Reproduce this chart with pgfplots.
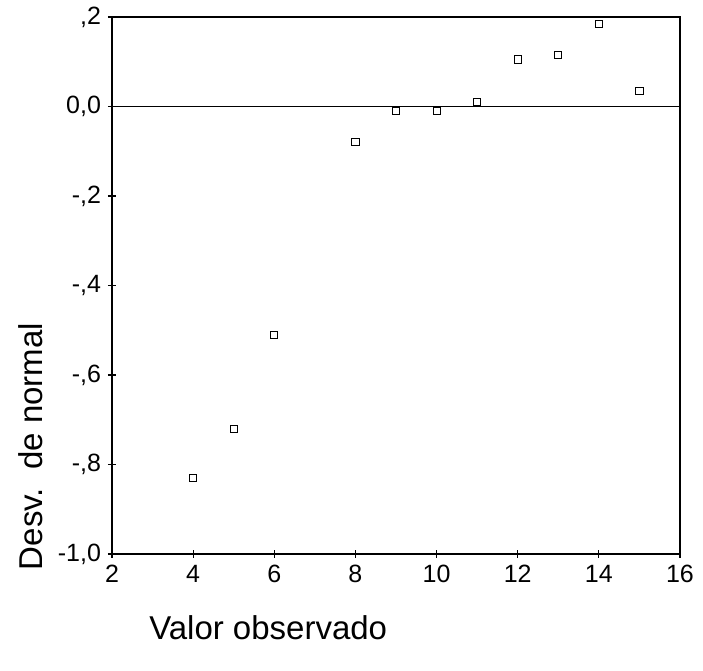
\documentclass[border=0pt]{standalone}
\usepackage{fontspec}
\setmainfont{Liberation Sans}
\usepackage{pgfplots}
\pgfplotsset{compat=1.18}

\begin{document}
\begin{tikzpicture}
\begin{axis}[
    scale only axis,
    width=284pt,
    height=268.5pt,
    xmin=2, xmax=16,
    ymin=-1, ymax=0.2,
    xtick={2,4,...,16},
    ytick={-1,-0.8,-0.6,-0.4,-0.2,0,0.2},
    yticklabels={{-1,0},{-,8},{-,6},{-,4},{-,2},{0,0},{,2}},
    /pgf/number format/assume math mode=true,
    xtick pos=bottom,
    ytick pos=left,
    tick align=center,
    major tick length=4pt,
    axis line style={line width=0.7pt},
    tick style={black, line width=0.6pt},
    ticklabel style={font=\fontsize{12.5}{15}\selectfont},
    label style={font=\fontsize{16.5}{19}\selectfont},
    xlabel={Valor observado},
    ylabel={Desv.\ \ de normal},
    xlabel style={at={(axis description cs:0.275,-0.138)}, anchor=center},
    ylabel style={at={(axis description cs:-0.144,0.2)}, anchor=center, rotate=0},
]
\addplot [black, line width=0.7pt, no marks] coordinates {(2,0) (16,0)};
\addplot [only marks, mark=square, mark size=1.8pt, mark options={line width=0.4pt, black}] coordinates {
    (4,-0.83) (5,-0.72) (6,-0.51) (8,-0.08) (9,-0.01) (10,-0.01)
    (11,0.01) (12,0.105) (13,0.115) (14,0.185) (15,0.035)
};
\end{axis}
\path ([shift={(-56pt,-58.5pt)}]current axis.south west)
    rectangle ([shift={(11.5pt,8pt)}]current axis.north east);
\end{tikzpicture}
\end{document}
